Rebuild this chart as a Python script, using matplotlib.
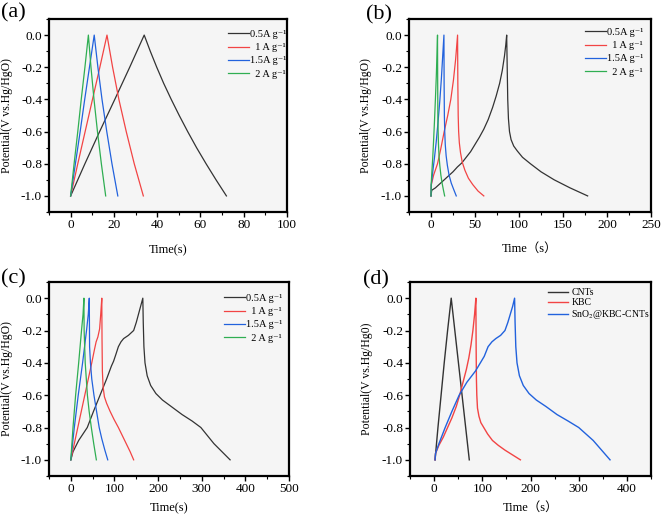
import matplotlib
matplotlib.use("Agg")
import matplotlib.pyplot as plt
from matplotlib.ticker import MultipleLocator, FormatStrFormatter

plt.rcParams['font.family'] = ['Liberation Serif', 'DejaVu Serif', 'Noto Sans CJK SC', 'DejaVu Sans']
plt.rcParams['mathtext.fontset'] = 'stix'

# ---------------- data ----------------
rate_labels = ["0.5A g\u207b\u00b9", "  1 A g\u207b\u00b9", "1.5A g\u207b\u00b9", "  2 A g\u207b\u00b9"]
d_labels = ["CNTs", "KBC", "SnO$_2$@KBC-CNTs"]

# Panel (a)
a_t_05 = [0, 6.6, 13.4, 20.4, 27.3, 34, 36.8, 39.8, 43.0, 46.5, 50.2, 54.1, 58.2, 62.6, 67.2, 72]
a_v_05 = [-1, -0.8, -0.6, -0.4, -0.2, 0, -0.1, -0.2, -0.3, -0.4, -0.5, -0.6, -0.7, -0.8, -0.9, -1.0]
a_t_1 = [0, 3.3, 6.7, 10.1, 13.5, 16.8, 19.4, 22.3, 25.7, 29.4, 33.6]
a_v_1 = [-1, -0.8, -0.6, -0.4, -0.2, 0, -0.2, -0.4, -0.6, -0.8, -1.0]
a_t_15 = [0, 2.2, 4.4, 6.5, 8.7, 10.9, 12.6, 14.5, 16.7, 19.1, 21.8]
a_v_15 = [-1, -0.8, -0.6, -0.4, -0.2, 0, -0.2, -0.4, -0.6, -0.8, -1.0]
a_t_2 = [0, 1.6, 3.3, 4.9, 6.6, 8.2, 9.4, 10.8, 12.4, 14.2, 16.2]
a_v_2 = [-1, -0.8, -0.6, -0.4, -0.2, 0, -0.2, -0.4, -0.6, -0.8, -1.0]

# Panel (b)
b_t_05 = [0, 0.8, 5, 10, 15, 20, 25, 30, 35, 40, 45, 50, 55, 60, 65, 70, 74, 78, 81, 83.5, 85, 86,
          86.6, 87.2, 88, 89.2, 91, 94, 98, 104, 113, 125, 140, 158, 178]
b_v_05 = [-1, -0.965, -0.95, -0.925, -0.9, -0.875, -0.85, -0.82, -0.795, -0.76, -0.725, -0.68, -0.635,
          -0.585, -0.525, -0.45, -0.38, -0.3, -0.22, -0.13, -0.06, 0,
          -0.2, -0.4, -0.52, -0.6, -0.65, -0.69, -0.72, -0.76, -0.8, -0.85, -0.9, -0.95, -1.0]
b_t_1 = [0, 0.4, 3, 7.4, 11, 15, 19, 22.5, 25.5, 28, 30.2,
         30.5, 30.9, 31.4, 32.2, 33.5, 35.5, 38.5, 42.5, 47.5, 53.5, 60]
b_v_1 = [-1, -0.93, -0.87, -0.8, -0.71, -0.6, -0.5, -0.4, -0.28, -0.15, 0,
         -0.3, -0.5, -0.6, -0.67, -0.73, -0.79, -0.84, -0.89, -0.93, -0.97, -1.0]
b_t_15 = [0, 0.3, 2, 4, 6, 8, 10, 11.8, 13.3, 14.7,
          14.9, 15.2, 15.6, 16.2, 17.2, 18.6, 20.5, 23, 25.8, 28.7]
b_v_15 = [-1, -0.93, -0.85, -0.76, -0.66, -0.54, -0.41, -0.27, -0.13, 0,
          -0.3, -0.5, -0.6, -0.68, -0.75, -0.81, -0.87, -0.92, -0.96, -1.0]
b_t_2 = [0, 0.2, 1, 2, 3, 4, 5, 6, 6.8, 7.4,
         7.6, 7.8, 8.1, 8.5, 9.1, 10, 11.2, 12.6, 14, 15.5]
b_v_2 = [-1, -0.93, -0.85, -0.76, -0.65, -0.53, -0.4, -0.26, -0.12, 0,
         -0.3, -0.5, -0.6, -0.68, -0.75, -0.81, -0.87, -0.92, -0.96, -1.0]

# Panel (c)
c_t_05 = [0, 5, 18, 37.7, 52, 67, 82, 93, 98, 103, 109, 115, 121, 132, 144, 150, 155, 160, 165,
          166, 167.5, 170, 175, 183, 195, 210, 230, 255, 278, 298, 328, 365]
c_v_05 = [-1, -0.95, -0.88, -0.8, -0.7, -0.6, -0.5, -0.42, -0.39, -0.35, -0.3, -0.27, -0.25, -0.23, -0.2, -0.15, -0.1, -0.05, 0,
          -0.15, -0.3, -0.4, -0.48, -0.54, -0.59, -0.63, -0.67, -0.72, -0.76, -0.8, -0.9, -1.0]
c_t_1 = [0, 8, 16, 24, 32, 40, 48, 54, 58, 62, 66, 68.5, 71,
         71.5, 72.3, 74, 77, 82, 90, 99, 109, 118, 127, 136, 144]
c_v_1 = [-1, -0.9, -0.8, -0.7, -0.6, -0.5, -0.4, -0.32, -0.27, -0.24, -0.19, -0.1, 0,
         -0.25, -0.45, -0.55, -0.61, -0.65, -0.7, -0.75, -0.8, -0.85, -0.9, -0.95, -1.0]
c_t_15 = [0, 8, 17, 27, 36, 40, 42.3, 43, 45, 48, 53, 59, 65, 71, 78, 84.6]
c_v_15 = [-1, -0.8, -0.6, -0.4, -0.2, -0.1, 0, -0.3, -0.4, -0.5, -0.6, -0.7, -0.8, -0.87, -0.94, -1.0]
c_t_2 = [0, 5, 11, 18, 24.5, 28, 30, 30.5, 33, 38, 42, 47, 52.5, 58.5]
c_v_2 = [-1, -0.8, -0.6, -0.4, -0.2, -0.1, 0, -0.2, -0.4, -0.6, -0.7, -0.8, -0.9, -1.0]

# Panel (d)
d_t_cnt = [2, 8, 14.5, 21, 28, 35.5, 43, 50.5, 58, 65.5, 73]
d_v_cnt = [-1, -0.8, -0.6, -0.4, -0.2, 0, -0.2, -0.4, -0.6, -0.8, -1.0]
d_t_kbc = [2, 3, 10, 19, 28, 37, 46, 53, 60, 67, 72, 76.5, 80.5, 84, 86.7,
           87.2, 87.8, 88.6, 90, 93, 97, 103, 111, 121, 133, 147, 163, 179]
d_v_kbc = [-1, -0.96, -0.91, -0.86, -0.8, -0.74, -0.67, -0.6, -0.52, -0.44, -0.37, -0.29, -0.2, -0.1, 0,
           -0.3, -0.5, -0.6, -0.68, -0.73, -0.77, -0.8, -0.84, -0.88, -0.91, -0.94, -0.97, -1.0]
d_t_sn = [2, 3, 10, 23, 37, 52, 68, 86, 96, 104, 112, 120, 128, 138, 147, 153, 158, 163, 167,
          168, 169.5, 172, 177, 185, 197, 212, 232, 255, 278, 300, 330, 365]
d_v_sn = [-1, -0.96, -0.9, -0.8, -0.7, -0.6, -0.52, -0.45, -0.4, -0.36, -0.3, -0.27, -0.25, -0.23, -0.2, -0.15, -0.1, -0.05, 0,
          -0.15, -0.3, -0.4, -0.48, -0.54, -0.59, -0.63, -0.67, -0.72, -0.76, -0.8, -0.88, -1.0]

colors = ['#333333', '#f24444', '#2262dd', '#2fae52']

fig = plt.figure(figsize=(6.61, 5.15), dpi=100)
W, H = 661, 515

def make_ax(l, r, t, b):
    return fig.add_axes([l / W, 1 - b / H, (r - l) / W, (b - t) / H])

def style(ax, xlim, xmaj, xmin, xlabel, ylabel, xlab_y):
    ax.set_facecolor('#f5f5f5')
    ax.set_xlim(*xlim)
    ax.set_ylim(-1.1, 0.1)
    ax.xaxis.set_major_locator(MultipleLocator(xmaj))
    ax.xaxis.set_minor_locator(MultipleLocator(xmin))
    ax.set_yticks([0.0, -0.2, -0.4, -0.6, -0.8, -1.0])
    ax.yaxis.set_minor_locator(MultipleLocator(0.1))
    ax.yaxis.set_major_formatter(FormatStrFormatter('%.1f'))
    ax.tick_params(which='major', direction='out', length=3.5, width=1.0, labelsize=9.5, pad=1.5)
    ax.tick_params(which='minor', direction='out', length=2, width=0.8)
    for sp in ax.spines.values():
        sp.set_linewidth(1.6)
    ax.set_xlabel(xlabel, fontsize=9)
    ax.set_ylabel(ylabel, fontsize=8.5)
    ax.xaxis.set_label_coords(0.5, xlab_y)
    ax.yaxis.set_label_coords(-0.152, 0.5)

def legend(ax, x, y, fs, spacing, tpad):
    ax.legend(loc='upper left', bbox_to_anchor=(x, y), frameon=False, fontsize=fs,
              handlelength=2.0, handletextpad=tpad, labelspacing=spacing,
              borderaxespad=0, borderpad=0)

ylab = "Potential(V vs.Hg/HgO)"

# (a)
ax = make_ax(49, 287, 19, 212)
for t, v, c, lab in zip([a_t_05, a_t_1, a_t_15, a_t_2], [a_v_05, a_v_1, a_v_15, a_v_2], colors, rate_labels):
    ax.plot(t, v, color=c, lw=0.9, label=lab)
style(ax, (-10, 100), 20, 10, "Time(s)", ylab, -0.168)
legend(ax, 0.752, 0.945, 7.5, 0.38, 0.15)

# (b)
ax = make_ax(409, 651, 19, 212)
for t, v, c, lab in zip([b_t_05, b_t_1, b_t_15, b_t_2], [b_v_05, b_v_1, b_v_15, b_v_2], colors, rate_labels):
    ax.plot(t, v, color=c, lw=0.9, label=lab)
style(ax, (-25, 250), 50, 25, "Time\uff08s\uff09", ylab, -0.16)
legend(ax, 0.727, 0.955, 7.5, 0.38, 0.15)

# (c)
ax = make_ax(49, 289, 282, 476)
for t, v, c, lab in zip([c_t_05, c_t_1, c_t_15, c_t_2], [c_v_05, c_v_1, c_v_15, c_v_2], colors, rate_labels):
    ax.plot(t, v, color=c, lw=0.9, label=lab)
style(ax, (-50, 500), 100, 50, "Time(s)", ylab, -0.135)
legend(ax, 0.729, 0.94, 7.5, 0.38, 0.15)

# (d)
ax = make_ax(410, 651, 282, 476)
for t, v, c, lab in zip([d_t_cnt, d_t_kbc, d_t_sn], [d_v_cnt, d_v_kbc, d_v_sn], colors[:3], d_labels):
    ax.plot(t, v, color=c, lw=1.0, label=lab)
style(ax, (-50, 450), 100, 50, "Time\uff08s\uff09", "Potential(V vs.Hg/Hg0)", -0.135)
legend(ax, 0.573, 0.968, 7, 0.1, 0.4)

for txt, x, y in [("(a)", 13, 13), ("(b)", 379, 15), ("(c)", 13, 279), ("(d)", 376, 280)]:
    fig.text(x / W, 1 - y / H, txt, fontsize=16, ha='center', va='center')

fig.savefig("out.png", dpi=100)
